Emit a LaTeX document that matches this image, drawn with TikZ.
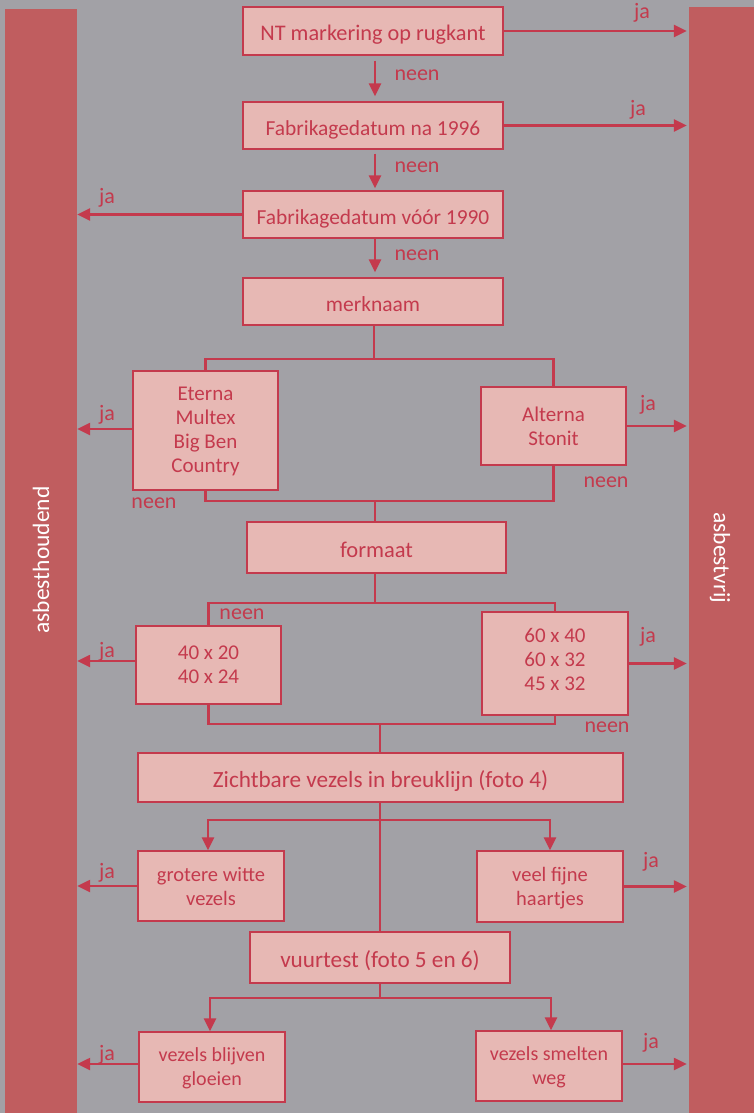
\documentclass[tikz,border=0pt]{standalone}
\usepackage{fontspec}
\setmainfont{Carlito}
\usetikzlibrary{arrows.meta}
\definecolor{bgc}{HTML}{A2A1A6}
\definecolor{barc}{HTML}{C05D5F}
\definecolor{boxfill}{HTML}{E7B8B4}
\definecolor{ink}{HTML}{C43A4D}
\newcommand{\fs}[1]{\fontsize{#1}{24}\selectfont}
\begin{document}
\begin{tikzpicture}[x=1pt,y=-1pt,
 box/.style={draw=ink, line width=1.3pt, fill=boxfill, text=ink, font=\fs{21}, align=center, inner sep=0pt, text depth=0pt},
 single/.style={text height=19.5pt, text depth=0pt},
 conn/.style={draw=ink, line width=2.4pt},
 arr/.style={conn, -{Triangle[length=13pt,width=12pt]}},
 lbl/.style={text=ink, font=\fs{22}, inner sep=0pt},
 barstyle/.style={fill=barc, draw=none, inner sep=0pt},
 bartext/.style={text=white, font=\fs{23.5}, inner sep=0pt}]
\fill[bgc] (0,0) rectangle (754,1113);
\useasboundingbox (0,0) rectangle (754,1113);
% bars
\node[barstyle, minimum width=72pt, minimum height=1104pt] (L) at (41,561) {};
\node[barstyle, minimum width=65pt, minimum height=1106pt] (R) at (721.5,560) {};
\node[bartext, rotate=90] (Ltxt) at (41,560) {asbesthoudend};
\node[bartext, rotate=-90] (Rtxt) at (720,558) {asbestvrij};
% boxes
\node[box, single, font=\fs{22.3}, minimum width=260pt, minimum height=48pt] (nt) at (373,31) {NT markering op rugkant};
\node[box, single, font=\fs{21.4}, minimum width=260pt, minimum height=47pt] (f96) at (373,125.5) {Fabrikagedatum na 1996};
\node[box, single, font=\fs{21.4}, minimum width=260pt, minimum height=47pt] (f90) at (373,214.5) {Fabrikagedatum vóór 1990};
\node[box, single, font=\fs{21.5}, minimum width=260pt, minimum height=47pt] (merk) at (373,301.5) {merknaam};
\node[box, text depth=2pt, minimum width=145pt, minimum height=119pt] (eterna) at (205.5,430.5) {Eterna\\Multex\\Big Ben\\Country};
\node[box, minimum width=145pt, minimum height=78pt] (alterna) at (553.5,426) {Alterna\\Stonit};
\node[box, single, font=\fs{22.5}, minimum width=259pt, minimum height=51pt] (formaat) at (376.5,547.5) {formaat};
\node[box, minimum width=145pt, minimum height=78pt] (klein) at (208.5,665) {40 x 20\\40 x 24};
\node[box, text depth=8pt, minimum width=146pt, minimum height=103pt] (groot) at (555,663.5) {60 x 40\\60 x 32\\45 x 32};
\node[box, single, font=\fs{23.2}, minimum width=485pt, minimum height=49pt] (zicht) at (380.5,777.5) {Zichtbare vezels in breuklijn (foto 4)};
\node[box, font=\fs{20.5}, minimum width=146pt, minimum height=70pt] (grotere) at (211,886) {grotere witte\\vezels};
\node[box, font=\fs{20.5}, minimum width=146pt, minimum height=71pt] (veel) at (550,886.5) {veel fijne\\haartjes};
\node[box, single, font=\fs{23.2}, minimum width=260pt, minimum height=51pt] (vuur) at (380,957.5) {vuurtest (foto 5 en 6)};
\node[box, font=\fs{20}, minimum width=146pt, minimum height=70pt] (blijven) at (212,1067) {vezels blijven\\gloeien};
\node[box, font=\fs{20}, minimum width=146pt, minimum height=70pt] (smelten) at (549,1066) {vezels smelten\\weg};
% neen arrows
\draw[arr, shorten <=5pt, shorten >=5pt] ([xshift=2pt]nt.south) -- ([xshift=2pt]f96.north);
\draw[arr, shorten <=4pt, shorten >=2pt] ([xshift=2pt]f96.south) -- ([xshift=2pt]f90.north);
\draw[arr, shorten >=5pt] ([xshift=2pt]f90.south) -- ([xshift=2pt]merk.north);
% ja arrows
\draw[arr, shorten >=2pt] (nt.east) -- (nt.east -| R.west);
\draw[arr, shorten >=2pt] (f96.east) -- (f96.east -| R.west);
\draw[arr] (f90.west) -- (f90.west -| L.east);
\draw[arr] ([yshift=1.5pt]eterna.west) -- ([yshift=1.5pt]eterna.west -| L.east);
\draw[arr, shorten >=2pt] (alterna.east) -- (alterna.east -| R.west);
\draw[arr] ([yshift=4pt]klein.west) -- ([yshift=4pt]klein.west -| L.east);
\draw[arr, shorten >=2pt] (groot.east) -- (groot.east -| R.west);
\draw[arr] (grotere.west) -- (grotere.west -| L.east);
\draw[arr, shorten >=2pt] (veel.east) -- (veel.east -| R.west);
\draw[arr] ([yshift=3pt]blijven.west) -- ([yshift=3pt]blijven.west -| L.east);
\draw[arr, shorten >=2pt] ([yshift=2pt]smelten.east) -- ([yshift=2pt]smelten.east -| R.west);
% merknaam branches
\coordinate (b1) at (374,359);
\coordinate (b2) at (375,501);
\draw[conn] (merk.south -| b1) -- (b1);
\draw[conn] (eterna.north) |- (b1) -| (alterna.north);
\draw[conn] (eterna.south) |- (b2) -| (alterna.south);
\draw[conn] (b2) -- (b2 |- formaat.north);
% formaat branches
\coordinate (b3) at (375,603);
\coordinate (b4) at (380,724);
\draw[conn] (formaat.south -| b3) -- (b3);
\draw[conn] (klein.north) |- (b3) -| (groot.north);
\draw[conn] (klein.south) |- (b4) -| (groot.south);
\draw[conn] (b4) -- (b4 |- zicht.north);
% zichtbare branches
\coordinate (b5) at (380,820);
\draw[conn] (zicht.south -| b5) -- (b5 |- vuur.north);
\draw[arr] (b5) -| ([xshift=-3pt]grotere.north);
\draw[arr] (b5) -| (veel.north);
% vuurtest branches
\coordinate (b6) at (380,998);
\draw[conn] (vuur.south -| b6) -- (b6);
\draw[arr] (b6) -| ([xshift=-2pt]blijven.north);
\draw[arr] (b6) -| ([xshift=2pt]smelten.north);
% labels
\node[lbl] (j1) at (642,13) {ja};
\node[lbl] (j2) at (638,110) {ja};
\node[lbl] (j3) at (107,198) {ja};
\node[lbl] (j4) at (107,415) {ja};
\node[lbl] (j5) at (648,405) {ja};
\node[lbl] (j6) at (107,652) {ja};
\node[lbl] (j7) at (648,637) {ja};
\node[lbl] (j8) at (107,873) {ja};
\node[lbl] (j9) at (651,862) {ja};
\node[lbl] (j10) at (107,1055) {ja};
\node[lbl] (j11) at (651,1043) {ja};
\node[lbl] (n1) at (417,75) {neen};
\node[lbl] (n2) at (417,167) {neen};
\node[lbl] (n3) at (417,255) {neen};
\node[lbl] (n4) at (154,503) {neen};
\node[lbl] (n5) at (606,482) {neen};
\node[lbl] (n6) at (242,614) {neen};
\node[lbl] (n7) at (607,727) {neen};
\end{tikzpicture}
\end{document}
